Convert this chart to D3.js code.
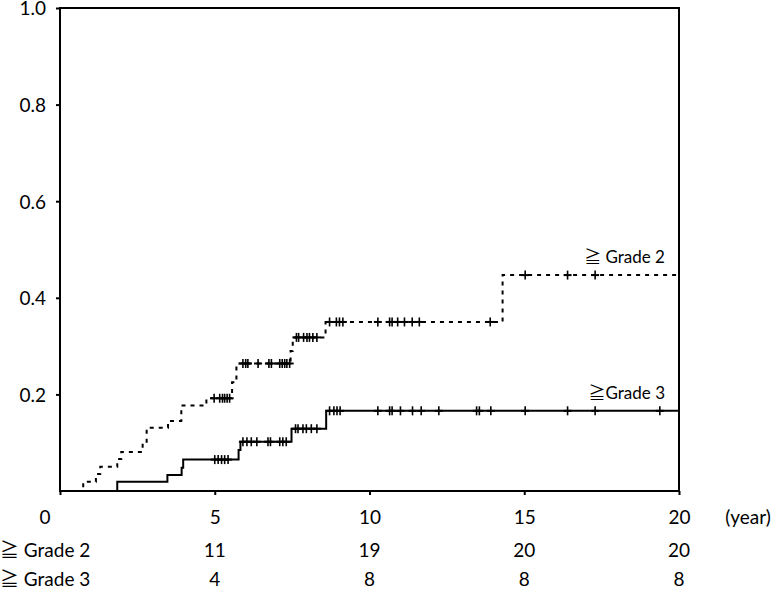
<!DOCTYPE html>
<html>
<head>
<meta charset="utf-8">
<script src="https://cdn.jsdelivr.net/npm/d3@7"></script>
<style>
  body { margin: 0; background: #fff; }
  svg { display: block; }
  text { font-family: Lato, "Noto Sans CJK JP", sans-serif; fill: #000; }
</style>
</head>
<body>
<svg id="chart" width="779" height="591"></svg>
<script>
// step curves: event times (years) and cumulative incidence after each event
const grade2Times = [0.75, 1.16, 1.30, 1.85, 1.98, 2.67, 2.80, 3.49, 3.92, 4.73, 5.56, 5.70, 7.45, 7.52, 8.58, 14.3];
const grade2Values = [0.019, 0.035, 0.050, 0.066, 0.081, 0.100, 0.131, 0.145, 0.177, 0.192, 0.225, 0.264, 0.290, 0.318, 0.350, 0.447];
const grade2Censored = [4.98, 5.16, 5.25, 5.32, 5.40, 5.48, 5.91, 6.00, 6.07, 6.40, 6.75, 6.83, 7.10, 7.18, 7.26, 7.33, 7.42,
  7.64, 7.71, 7.87, 7.98, 8.06, 8.17, 8.30, 8.71, 8.93, 9.03, 9.14, 10.27, 10.65, 10.73, 10.91, 11.13, 11.38, 11.61,
  13.90, 15.03, 16.40, 17.29];

const grade3Times = [1.85, 3.47, 3.93, 3.98, 5.77, 5.83, 7.48, 8.60];
const grade3Values = [0.019, 0.033, 0.048, 0.065, 0.085, 0.102, 0.129, 0.166];
const grade3Censored = [5.00, 5.11, 5.22, 5.32, 5.43, 5.91, 6.04, 6.18, 6.36, 6.72, 6.80, 7.10, 7.20, 7.31,
  7.61, 7.69, 7.85, 7.96, 8.12, 8.30, 8.71, 8.85, 8.95, 9.05, 10.27, 10.65, 10.73, 11.00, 11.39, 11.67, 12.24,
  13.46, 13.55, 13.92, 15.03, 16.40, 17.29, 19.38];

const xTicks = [5, 10, 15, 20];
const yTicks = [0.2, 0.4, 0.6, 0.8, 1.0];

const riskTimes = [5, 10, 15, 20];
const riskGrade2 = [11, 19, 20, 20];
const riskGrade3 = [4, 8, 8, 8];

const svg = d3.select("#chart");
const x = d3.scaleLinear().domain([0, 20]).range([60, 679]);
const y = d3.scaleLinear().domain([0, 1]).range([491, 8]);

// value of a step function at time t
function stepAt(times, values, t) {
  let v = 0;
  times.forEach((s, i) => { if (s <= t) v = values[i]; });
  return v;
}

function curvePoints(times, values) {
  const pts = [[0, 0]];
  times.forEach((t, i) => pts.push([t, values[i]]));
  pts.push([20, values[values.length - 1]]);
  return pts;
}

const line = d3.line().x(d => x(d[0])).y(d => y(d[1])).curve(d3.curveStepAfter);

// frame
svg.append("rect")
  .attr("x", x(0)).attr("y", y(1))
  .attr("width", x(20) - x(0)).attr("height", y(0) - y(1))
  .attr("fill", "none").attr("stroke", "#000").attr("stroke-width", 2);

// y axis
const yAxis = svg.append("g").attr("transform", `translate(${x(0)},0)`)
  .call(d3.axisLeft(y).tickValues(yTicks).tickFormat(d3.format(".1f")).tickSize(4).tickPadding(10));
yAxis.select(".domain").remove();
yAxis.selectAll("line").attr("stroke-width", 2);
yAxis.selectAll("text").attr("font-size", 19).attr("font-family", null).attr("dy", "0.36em");

// x axis
const xAxis = svg.append("g").attr("transform", `translate(0,${y(0)})`)
  .call(d3.axisBottom(x).tickValues([0].concat(xTicks)).tickFormat(d => d === 0 ? "" : d).tickSize(4).tickPadding(16));
xAxis.select(".domain").remove();
xAxis.selectAll("line").attr("stroke-width", 2);
xAxis.selectAll("text").attr("font-size", 19).attr("font-family", null);

svg.append("text").attr("x", x(0) - 15).attr("y", 524)
  .attr("text-anchor", "middle").attr("font-size", 19).text("0");
svg.append("text").attr("x", 748).attr("y", 524)
  .attr("text-anchor", "middle").attr("font-size", 19).text("(year)");

// curves
svg.append("path")
  .attr("d", line(curvePoints(grade2Times, grade2Values)))
  .attr("fill", "none").attr("stroke", "#000").attr("stroke-width", 2)
  .attr("stroke-dasharray", "4,5");

svg.append("path")
  .attr("d", line(curvePoints(grade3Times, grade3Values)))
  .attr("fill", "none").attr("stroke", "#000").attr("stroke-width", 2);

// censor marks
function addCensors(times, values, censored) {
  const g = svg.append("g").attr("stroke", "#000").attr("stroke-width", 1.6);
  censored.forEach(t => {
    const cx = x(t), cy = y(stepAt(times, values, t));
    g.append("line").attr("x1", cx).attr("x2", cx).attr("y1", cy - 4.5).attr("y2", cy + 4.5);
    g.append("line").attr("x1", cx - 4).attr("x2", cx + 4).attr("y1", cy).attr("y2", cy).attr("stroke-width", 2);
  });
}
addCensors(grade2Times, grade2Values, grade2Censored);
addCensors(grade3Times, grade3Values, grade3Censored);

// curve labels
svg.append("text").attr("x", 665).attr("y", 263)
  .attr("text-anchor", "end").attr("font-size", 17).text("\u2267 Grade 2");
svg.append("text").attr("x", 665).attr("y", 399)
  .attr("text-anchor", "end").attr("font-size", 17).text("\u2267Grade 3");

// number table below the axis
const rows = [
  { label: "\u2267 Grade 2", values: riskGrade2, y: 557 },
  { label: "\u2267 Grade 3", values: riskGrade3, y: 586 }
];
rows.forEach(r => {
  svg.append("text").attr("x", 0).attr("y", r.y).attr("font-size", 19).text(r.label);
  svg.selectAll(null).data(riskTimes).enter().append("text")
    .attr("x", d => x(d)).attr("y", r.y)
    .attr("text-anchor", "middle").attr("font-size", 19)
    .text((d, i) => r.values[i]);
});
</script>
</body>
</html>
